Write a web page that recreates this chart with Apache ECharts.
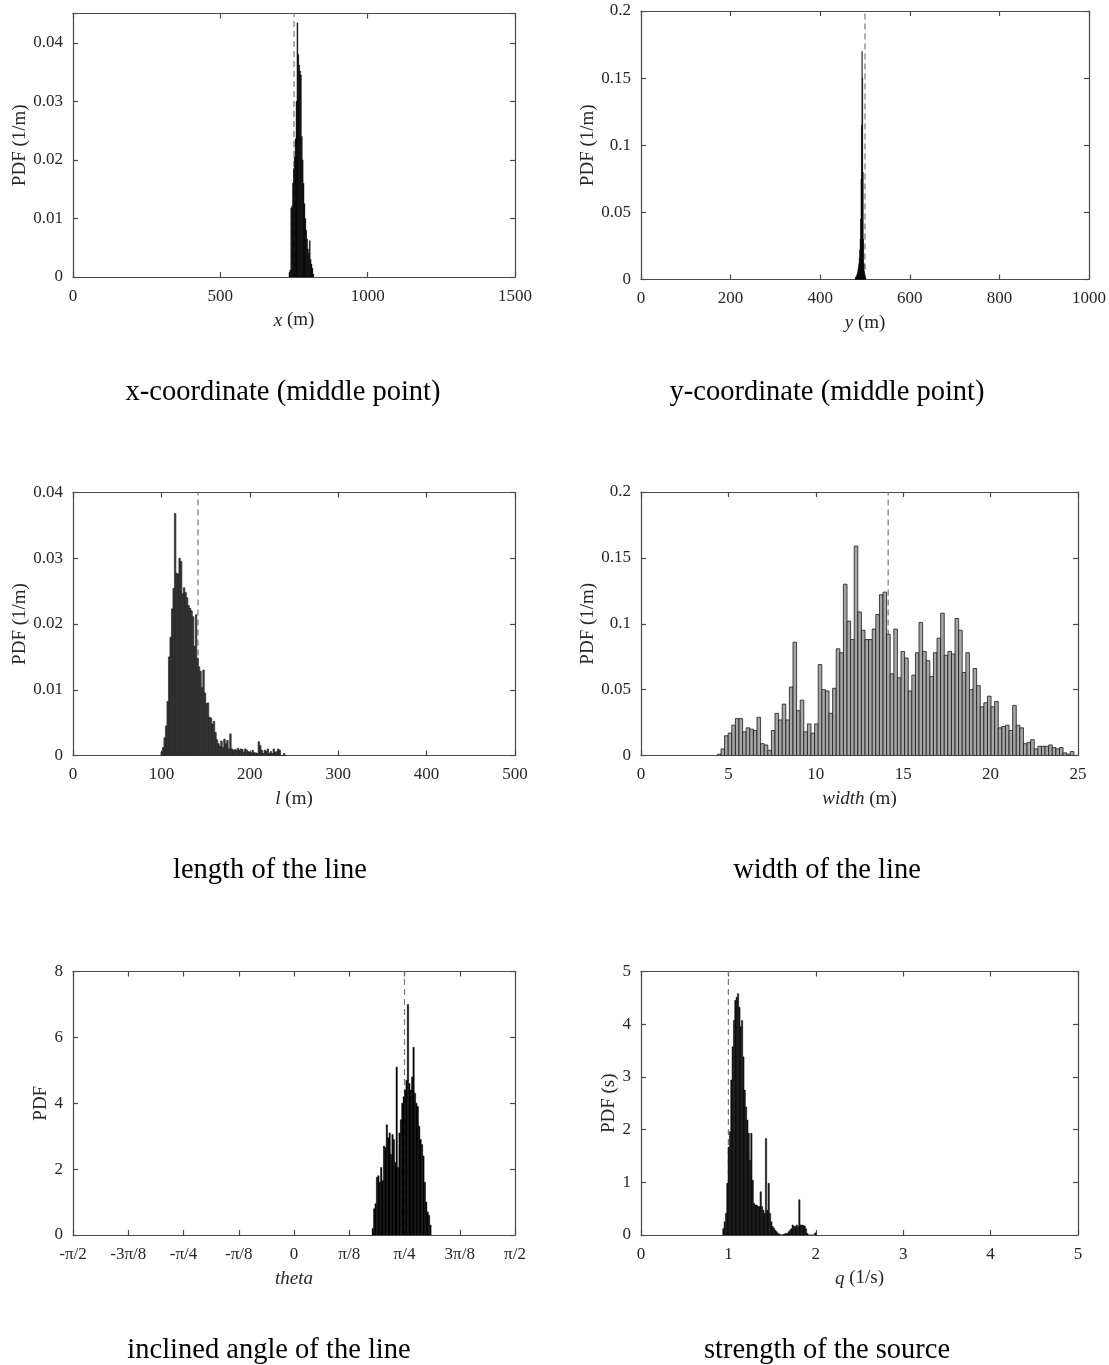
<!DOCTYPE html>
<html>
<head>
<meta charset="utf-8">
<script src="https://cdn.jsdelivr.net/npm/echarts@6/dist/echarts.min.js"></script>
<style>
  html, body { margin: 0; padding: 0; background: #fff; }
  #chart { width: 1109px; height: 1365px; }
</style>
</head>
<body>
<div id="chart"></div>
<script>
// Posterior histograms of the line-source parameters (PDF per bin).

// x-coordinate of the middle point (m)
const xBinStart = 733, xBinWidth = 3;
const xPdf = [0.0008, 0.0012, 0.0118, 0.0121, 0.0160, 0.0185, 0.0205, 0.0236, 0.0300, 0.0434,
  0.0380, 0.0362, 0.0352, 0.0345, 0.0240, 0.0200, 0.0160, 0.0125, 0.0100, 0.0080,
  0.0065, 0.0048, 0.0040, 0.0062, 0.0030, 0.0022, 0.0015, 0.0005];
const xTrue = 750;

// y-coordinate of the middle point (m)
const yBinStart = 478, yBinWidth = 1;
const yPdf = [0.001, 0.002, 0.002, 0.003, 0.004, 0.005, 0.007, 0.009, 0.012, 0.016,
  0.022, 0.030, 0.045, 0.075, 0.115, 0.170, 0.150, 0.080, 0.030, 0.012,
  0.006, 0.003, 0.002, 0.001];
const yTrue = 500;

// length of the line (m)
const lBinStart = 99.5, lBinWidth = 1.69;
const lPdf = [0.0005, 0.0012, 0.0027, 0.0045, 0.0082, 0.0150, 0.0180, 0.0223, 0.0254, 0.0368,
  0.0277, 0.0276, 0.0300, 0.0295, 0.0246, 0.0255, 0.0248, 0.0240, 0.0228, 0.0224,
  0.0220, 0.0211, 0.0166, 0.0214, 0.0148, 0.0135, 0.0128, 0.0103, 0.0130, 0.0095,
  0.0079, 0.0080, 0.0058, 0.0057, 0.0048, 0.0052, 0.0035, 0.0024, 0.0018, 0.0014,
  0.0022, 0.0012, 0.0025, 0.0018, 0.0023, 0.0010, 0.0033, 0.0010, 0.0008, 0.0009,
  0.0008, 0.0011, 0.0008, 0.0010, 0.0009, 0.0005, 0.0010, 0.0008, 0.0006, 0.0005,
  0.0004, 0.0008, 0.0004, 0.0004, 0.0003, 0.0021, 0.0015, 0.0008, 0.0003, 0.0008,
  0.0006, 0.0010, 0.0003, 0.0006, 0.0003, 0.0010, 0.0005, 0.0006, 0.0010, 0.0008,
  0, 0, 0.0003];
const lTrue = 141.42;

// width of the line (m)
const wBinStart = 4.37, wBinWidth = 0.206;
const wPdf = [0.001, 0.005, 0.015, 0.017, 0.023, 0.028, 0.028, 0.018, 0.021, 0.020,
  0.019, 0.029, 0.009, 0.008, 0.004, 0.019, 0.032, 0.027, 0.039, 0.027,
  0.052, 0.086, 0.034, 0.042, 0.018, 0.024, 0.017, 0.024, 0.069, 0.050,
  0.049, 0.032, 0.051, 0.081, 0.078, 0.130, 0.102, 0.088, 0.159, 0.109,
  0.095, 0.088, 0.088, 0.096, 0.107, 0.122, 0.124, 0.092,
  0.062, 0.096, 0.059, 0.079, 0.074, 0.049, 0.061, 0.078, 0.101, 0.079,
  0.072, 0.060, 0.078, 0.089, 0.108, 0.076, 0.079, 0.077, 0.104, 0.095,
  0.063, 0.078, 0.050, 0.066, 0.053, 0.037, 0.040, 0.045, 0.037, 0.041,
  0.021, 0.022, 0.023, 0.019, 0.038, 0.023, 0.021, 0.009, 0.010, 0.012,
  0.005, 0.007, 0.007, 0.007, 0.008, 0.006, 0.005, 0.006, 0.002, 0.001,
  0.003];
const wTrue = 14.14;

// inclined angle of the line (rad)
const tBinStart = 0.555, tBinWidth = 0.01;
const tPdf = [0.2, 0.8, 0.95, 1.75, 1.8, 1.6, 2.05, 1.65, 2.7, 2.65,
  3.35, 2.95, 3.1, 2.45, 3.05, 2.9, 2.2, 5.1, 2.05, 3.1,
  3.5, 4.0, 4.2, 4.4, 4.7, 7.0, 4.6, 4.4, 4.8, 5.7,
  4.3, 4.0, 3.9, 3.3, 2.9, 2.75, 2.4, 1.6, 1.0, 0.7,
  0.6, 0.3];
const tTrue = Math.PI / 4;
const thetaTickLabels = ['-\u03c0/2', '-3\u03c0/8', '-\u03c0/4', '-\u03c0/8', '0',
  '\u03c0/8', '\u03c0/4', '3\u03c0/8', '\u03c0/2'];

// strength of the source (1/s)
const qBinStart = 0.935, qBinWidth = 0.01525;
const qPdf = [0.12, 0.25, 0.41, 0.98, 1.67, 1.96, 2.94, 3.57, 4.07, 4.45,
  4.51, 4.58, 4.32, 3.95, 4.07, 3.38, 2.75, 2.43, 2.18, 1.93,
  1.42, 1.93, 1.04, 0.60, 0.57, 0.57, 0.54, 0.54, 0.82, 0.54,
  0.47, 0.41, 1.83, 0.47, 0.98, 0.41, 0.25, 0.16, 0.13, 0.09,
  0.06, 0.03, 0.02, 0, 0, 0.01, 0.02, 0.03, 0.03, 0.06,
  0.09, 0.12, 0.19, 0.16, 0.16, 0.19, 0.16, 0.67, 0.19, 0.19,
  0.18, 0.17, 0.12, 0.03, 0, 0, 0, 0, 0, 0.04];
const qTrue = 1;

// ---- drawing ----
const FONT = '"Liberation Serif", "Times New Roman", serif';
const AXIS_COLOR = '#4a4a4a';
const LABEL_COLOR = '#262626';
const TICK_FONT = 17, NAME_FONT = 19, CAPTION_FONT = 28.5;

const panels = [
  { grid: { left: 73, top: 13.5, width: 442, height: 263.5 },
    x: { min: 0, max: 1500, interval: 500 }, y: { min: 0, max: 0.045, interval: 0.01 },
    xName: '{i|x} (m)', yName: 'PDF (1/m)', yGap: 41,
    start: xBinStart, width: xBinWidth, values: xPdf, mark: xTrue,
    fill: '#000', stroke: '#000', lw: 0.4, caption: 'x-coordinate (middle point)', cx: 283, cy: 390 },
  { grid: { left: 641, top: 11, width: 448, height: 268.5 },
    x: { min: 0, max: 1000, interval: 200 }, y: { min: 0, max: 0.2, interval: 0.05 },
    xName: '{i|y} (m)', yName: 'PDF (1/m)', yGap: 41,
    start: yBinStart, width: yBinWidth, values: yPdf, mark: yTrue,
    fill: '#000', stroke: '#000', lw: 0.4, caption: 'y-coordinate (middle point)', cx: 827, cy: 390 },
  { grid: { left: 73, top: 492.5, width: 442, height: 263 },
    x: { min: 0, max: 500, interval: 100 }, y: { min: 0, max: 0.04, interval: 0.01 },
    xName: '{i|l} (m)', yName: 'PDF (1/m)', yGap: 41,
    start: lBinStart, width: lBinWidth, values: lPdf, mark: lTrue,
    fill: '#444', stroke: '#111', lw: 0.6, caption: 'length of the line', cx: 270, cy: 868 },
  { grid: { left: 641, top: 492, width: 437, height: 263.5 },
    x: { min: 0, max: 25, interval: 5 }, y: { min: 0, max: 0.2, interval: 0.05 },
    xName: '{i|width} (m)', yName: 'PDF (1/m)', yGap: 41,
    start: wBinStart, width: wBinWidth, values: wPdf, mark: wTrue,
    fill: '#a6a6a6', stroke: '#1a1a1a', lw: 0.8, caption: 'width of the line', cx: 827, cy: 868 },
  { grid: { left: 73, top: 971.5, width: 442, height: 263.5 },
    x: { min: -Math.PI / 2, max: Math.PI / 2, interval: Math.PI / 8, labels: thetaTickLabels },
    y: { min: 0, max: 8, interval: 2 },
    xName: '{i|theta}', yName: 'PDF', yGap: 18,
    start: tBinStart, width: tBinWidth, values: tPdf, mark: tTrue,
    fill: '#000', stroke: '#000', lw: 0.4, caption: 'inclined angle of the line', cx: 269, cy: 1348 },
  { grid: { left: 641, top: 971.5, width: 437, height: 263.5 },
    x: { min: 0, max: 5, interval: 1 }, y: { min: 0, max: 5, interval: 1 },
    xName: '{i|q} (1/s)', yName: 'PDF (s)', yGap: 21,
    start: qBinStart, width: qBinWidth, values: qPdf, mark: qTrue,
    fill: '#1c1c1c', stroke: '#000', lw: 0.5, caption: 'strength of the source', cx: 827, cy: 1348 }
];

function tickFormatter(interval, labels, min) {
  return function (v) {
    const k = Math.round((v - min) / interval);
    if (Math.abs(v - (min + k * interval)) > interval * 1e-6) return '';
    if (labels) return labels[k] !== undefined ? labels[k] : '';
    return String(+(min + k * interval).toFixed(6));
  };
}

const lineStyle = { color: AXIS_COLOR, width: 1.2 };
const grids = [], xAxes = [], yAxes = [], series = [], graphics = [];

panels.forEach(function (p, gi) {
  grids.push(Object.assign({ containLabel: false }, p.grid));
  const common = { type: 'value', gridIndex: gi, splitLine: { show: false } };
  const xBase = Object.assign({}, common, { min: p.x.min, max: p.x.max, interval: p.x.interval });
  const yBase = Object.assign({}, common, { min: p.y.min, max: p.y.max, interval: p.y.interval });

  xAxes.push(Object.assign({}, xBase, {
    position: 'bottom',
    axisLine: { show: true, onZero: false, lineStyle: lineStyle },
    axisTick: { show: true, inside: true, length: 5, lineStyle: lineStyle },
    axisLabel: { show: true, margin: 11, fontSize: TICK_FONT, fontFamily: FONT, color: LABEL_COLOR,
      formatter: tickFormatter(p.x.interval, p.x.labels, p.x.min) },
    name: p.xName, nameLocation: 'middle', nameGap: 34,
    nameTextStyle: { fontSize: NAME_FONT, fontFamily: FONT, color: LABEL_COLOR,
      rich: { i: { fontStyle: 'italic', fontSize: NAME_FONT, fontFamily: FONT, color: LABEL_COLOR } } }
  }));
  xAxes.push(Object.assign({}, xBase, {
    position: 'top',
    axisLine: { show: true, onZero: false, lineStyle: lineStyle },
    axisTick: { show: true, inside: true, length: 5, lineStyle: lineStyle },
    axisLabel: { show: false }
  }));
  yAxes.push(Object.assign({}, yBase, {
    position: 'left',
    axisLine: { show: true, onZero: false, lineStyle: lineStyle },
    axisTick: { show: true, inside: true, length: 5, lineStyle: lineStyle },
    axisLabel: { show: true, margin: 10, fontSize: TICK_FONT, fontFamily: FONT, color: LABEL_COLOR,
      formatter: tickFormatter(p.y.interval, null, p.y.min) },
    name: p.yName, nameLocation: 'middle', nameGap: p.yGap,
    nameTextStyle: { fontSize: NAME_FONT, fontFamily: FONT, color: LABEL_COLOR }
  }));
  yAxes.push(Object.assign({}, yBase, {
    position: 'right',
    axisLine: { show: true, onZero: false, lineStyle: lineStyle },
    axisTick: { show: true, inside: true, length: 5, lineStyle: lineStyle },
    axisLabel: { show: false }
  }));

  // reference value of the parameter
  series.push({
    type: 'line', xAxisIndex: 2 * gi, yAxisIndex: 2 * gi, z: 2,
    symbol: 'none', silent: true, animation: false,
    data: [[p.mark, p.y.min], [p.mark, p.y.max]],
    lineStyle: { color: '#7a7a7a', width: 1.2, type: [6, 4] }
  });

  // histogram bars, one rectangle per bin
  series.push({
    type: 'custom', xAxisIndex: 2 * gi, yAxisIndex: 2 * gi, z: 3, clip: true,
    animation: false, silent: true,
    data: p.values.map(function (v, i) {
      return [p.start + i * p.width, p.start + (i + 1) * p.width, v];
    }),
    encode: { x: [0, 1], y: 2 },
    renderItem: (function (fill, stroke, lw) {
      return function (params, api) {
        const a = api.coord([api.value(0), 0]);
        const b = api.coord([api.value(1), api.value(2)]);
        return {
          type: 'rect',
          shape: { x: a[0], y: b[1], width: b[0] - a[0], height: a[1] - b[1] },
          style: { fill: fill, stroke: stroke, lineWidth: lw }
        };
      };
    })(p.fill, p.stroke, p.lw)
  });

  graphics.push({
    type: 'text', x: p.cx, y: p.cy + 3, silent: true,
    style: { text: p.caption, font: CAPTION_FONT + 'px ' + FONT, fill: '#000',
      align: 'center', verticalAlign: 'middle' }
  });
});

const chart = echarts.init(document.getElementById('chart'), null, { renderer: 'canvas' });
chart.setOption({
  animation: false,
  backgroundColor: '#fff',
  grid: grids,
  xAxis: xAxes,
  yAxis: yAxes,
  series: series,
  graphic: graphics
});
</script>
</body>
</html>
